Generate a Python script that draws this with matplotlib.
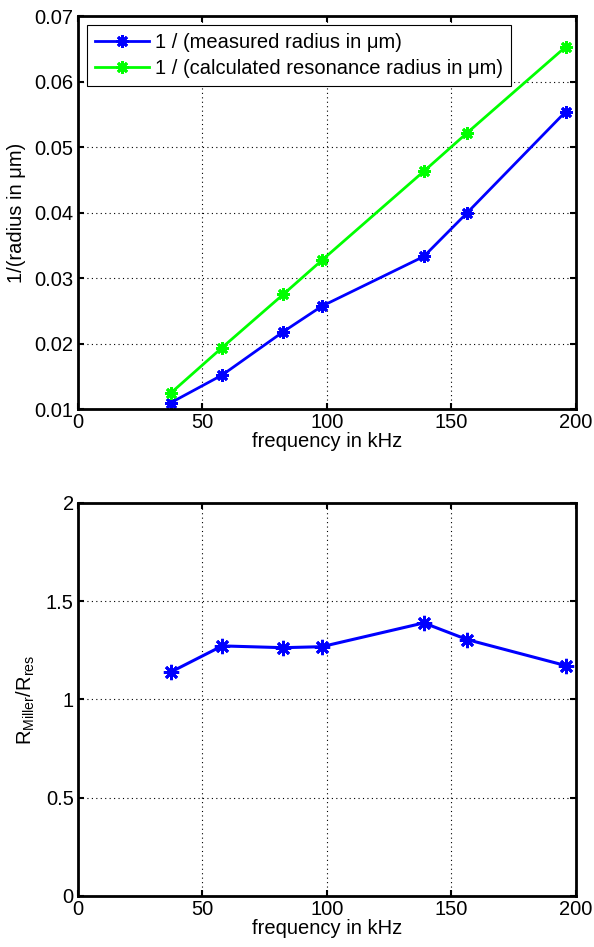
import matplotlib
matplotlib.use("Agg")
import matplotlib.pyplot as plt

plt.rcParams['font.family'] = ['Liberation Sans', 'DejaVu Sans']
plt.rcParams['mathtext.fontset'] = 'custom'
plt.rcParams['mathtext.rm'] = 'Liberation Sans'

# data
freq = [37.5, 58, 82.5, 98, 139, 156.5, 196]
inv_measured = [0.0110, 0.0152, 0.0218, 0.0257, 0.0333, 0.0400, 0.0554]
inv_calculated = [0.0125, 0.0194, 0.0275, 0.0327, 0.0463, 0.0522, 0.0653]
ratio = [1.14, 1.272, 1.263, 1.268, 1.389, 1.304, 1.172]

xticks = [0, 50, 100, 150, 200]
star = (8, 2, 0)  # matlab style asterisk
fs = 14.5

fig = plt.figure(figsize=(5.94, 9.47), dpi=100)
ax1 = fig.add_axes([0.131, 0.568, 0.838, 0.415])
ax2 = fig.add_axes([0.131, 0.054, 0.838, 0.415])

ax1.plot(freq, inv_measured, '-', marker=star, color='#0000ff', lw=2, ms=9, mew=2,
         label='1 / (measured radius in μm)')
ax1.plot(freq, inv_calculated, '-', marker=star, color='#00ff00', lw=2, ms=9, mew=2,
         label='1 / (calculated resonance radius in μm)')
ax1.set_xlim(0, 200)
ax1.set_ylim(0.01, 0.07)
ax1.set_yticks([0.01, 0.02, 0.03, 0.04, 0.05, 0.06, 0.07])
ax1.set_ylabel('1/(radius in μm)', fontsize=fs, labelpad=6)
leg = ax1.legend(loc='upper left', fontsize=fs, fancybox=False, framealpha=1,
                 edgecolor='black', borderaxespad=0.45, handlelength=2.7,
                 borderpad=0.4, labelspacing=0.35, handletextpad=0.3)
leg.get_frame().set_linewidth(0.8)

ax2.plot(freq, ratio, '-', marker=star, color='#0000ff', lw=2.2, ms=11, mew=2)
ax2.set_xlim(0, 200)
ax2.set_ylim(0, 2)
ax2.set_yticks([0, 0.5, 1, 1.5, 2])
ax2.set_yticklabels(['0', '0.5', '1', '1.5', '2'])
ax2.set_ylabel(r'R$_{\mathrm{Miller}}$/R$_{\mathrm{res}}$', fontsize=fs, labelpad=6)

for ax in (ax1, ax2):
    ax.set_xticks(xticks)
    ax.set_xlabel('frequency in kHz', fontsize=fs, labelpad=0)
    ax.grid(True, linestyle=(0, (1, 3)), color='black', lw=0.8)
    ax.tick_params(direction='in', top=True, right=True, length=4, width=1.5,
                   labelsize=fs, pad=3)
    for s in ax.spines.values():
        s.set_linewidth(2)

fig.savefig('out.png', dpi=100)
